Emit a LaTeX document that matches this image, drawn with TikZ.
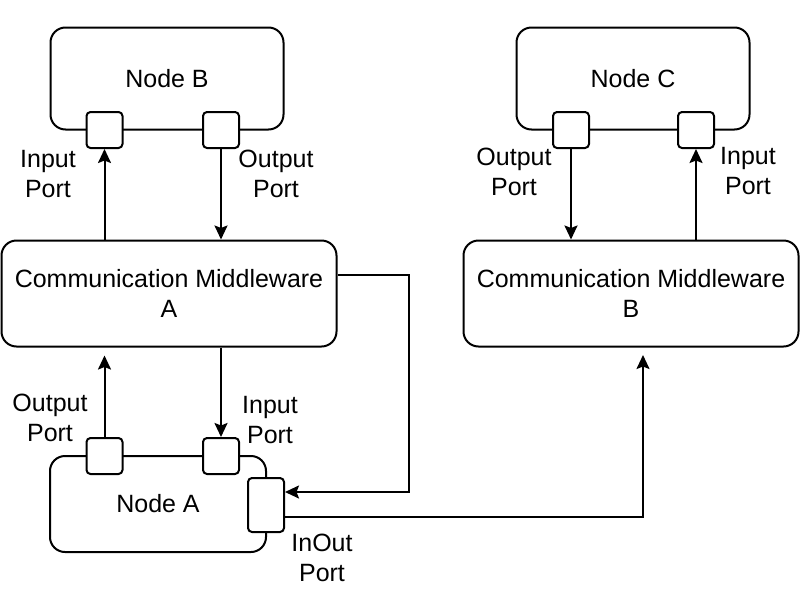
\documentclass[tikz,border=0pt]{standalone}
\usepackage{fontspec}
\setmainfont{Liberation Sans}
\usetikzlibrary{arrows.meta,calc}
\begin{document}
\begin{tikzpicture}[x=1pt,y=-1pt,
  every node/.style={font=\fontsize{25}{30}\selectfont},
  bigbox/.style={draw,line width=2pt,rounded corners=15pt,fill=white,inner sep=0pt},
  portbox/.style={draw,line width=2pt,rounded corners=4pt,fill=white,minimum width=36pt,minimum height=36pt,inner sep=0pt},
  lbl/.style={align=center,inner sep=0pt},
  arr/.style={line width=2pt,-{Stealth[length=14pt,width=13pt,inset=2.5pt]}}]
\useasboundingbox (0,0) rectangle (800,600);
% main boxes
\node[bigbox,minimum width=233pt,minimum height=102pt] (nb) at (167,78.5) {Node B};
\node[bigbox,minimum width=233pt,minimum height=102pt] (nc) at (633,78.5) {Node C};
\node[bigbox,minimum width=335pt,minimum height=106pt,align=center] (cma) at (169,293.5) {Communication Middleware\\A};
\node[bigbox,minimum width=335pt,minimum height=106pt,align=center] (cmb) at (631,293.5) {Communication Middleware\\B};
\node[bigbox,minimum width=216pt,minimum height=96pt] (na) at (158,504) {Node A};
% ports
\node[portbox] (bpin) at (104.5,130) {};
\node[portbox] (bpout) at (221,130) {};
\node[portbox] (cpout) at (571,130) {};
\node[portbox] (cpin) at (696,130) {};
\node[portbox] (apout) at (104.5,456) {};
\node[portbox] (apin) at (221,456) {};
\node[portbox,minimum height=54pt] (inout) at (266,505) {};
% labels
\node[lbl] (l1) at (48,174) {Input\\Port};
\node[lbl] (l2) at (276,174) {Output\\Port};
\node[lbl] (l3) at (514,172) {Output\\Port};
\node[lbl] (l4) at (748,171) {Input\\Port};
\node[lbl] (l5) at (50,418) {Output\\Port};
\node[lbl] (l6) at (270,420) {Input\\Port};
\node[lbl] (l7) at (322,558) {InOut\\Port};
% connectors
\draw[arr] (bpin.south |- cma.north) -- (bpin.south);
\draw[arr] (bpout.south) -- (bpout.south |- cma.north);
\draw[arr] (cpout.south) -- (cpout.south |- cmb.north);
\draw[arr] (cpin.south |- cmb.north) -- (cpin.south);
\draw[arr,shorten >=8pt] (apout.north) -- (apout.north |- cma.south);
\draw[arr] (apin.north |- cma.south) -- (apin.north);
\coordinate (k1) at (409,492);
\draw[arr] ([yshift=18.5pt]cma.east) -| (k1) -- (k1 -| inout.east);
\coordinate (k2) at (643,355);
\draw[arr] ([yshift=-12pt]inout.east) -| (k2);
\end{tikzpicture}
\end{document}
